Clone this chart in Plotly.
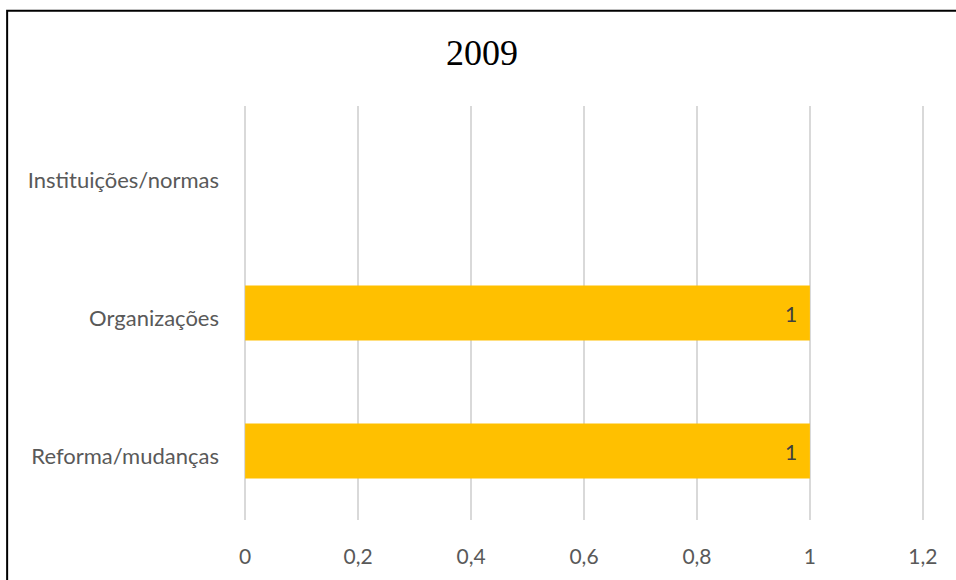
import plotly.graph_objects as go

categories = ["Reforma/mudanças", "Organizações", "Instituições/normas"]
values = [1, 1, None]
labels = ["1", "1", ""]
x_ticks = [0, 0.2, 0.4, 0.6, 0.8, 1, 1.2]
x_tick_text = ["0", "0,2", "0,4", "0,6", "0,8", "1", "1,2"]
title_text = "2009"

W, H = 956, 580
L, R, T, B = 244, 956 - 924.4, 106, 580 - 523
pw, ph = W - L - R, H - T - B

fig = go.Figure(go.Bar(
    y=categories, x=values, orientation="h",
    marker=dict(color="#FFC000", line=dict(width=0)),
    width=0.4,
    hoverinfo="skip",
))

for c, v, t in zip(categories, values, labels):
    if v is not None and t:
        fig.add_annotation(x=v, y=c, xref="x", yref="y", text=t, showarrow=False,
                           xanchor="center", xshift=-19, yshift=0,
                           font=dict(family="Lato", size=21, color="#404040"))

fig.update_layout(
    width=W, height=H,
    margin=dict(l=L, r=R, t=T, b=B),
    paper_bgcolor="white", plot_bgcolor="white",
    title=dict(text=title_text, x=482 / W, xanchor="center", y=1 - 52 / H, yanchor="middle",
               yref="container", font=dict(family="Liberation Serif", size=36, color="black")),
    showlegend=False,
    xaxis=dict(range=[-0.002, 1.202], tickvals=x_ticks, ticktext=x_tick_text, showgrid=True,
               gridcolor="#D9D9D9", gridwidth=1.5, zeroline=False, showline=False,
               tickfont=dict(family="Lato", size=21, color="#595959"), ticks="",
               ticklabelstandoff=22),
    yaxis=dict(range=[-0.5, 2.5], showgrid=False, zeroline=False, showline=False, ticks="",
               tickfont=dict(family="Lato", size=22, color="#595959"), ticklabelstandoff=24,
               ticklabelshift=5),
    shapes=[dict(type="rect", xref="paper", yref="paper",
                 x0=(7 - L) / pw, x1=(970 - L) / pw,
                 y0=(H - B - 600) / ph, y1=(H - B - 10) / ph,
                 line=dict(color="black", width=2), fillcolor="rgba(0,0,0,0)", layer="below")],
)

fig.write_html("out.html")
